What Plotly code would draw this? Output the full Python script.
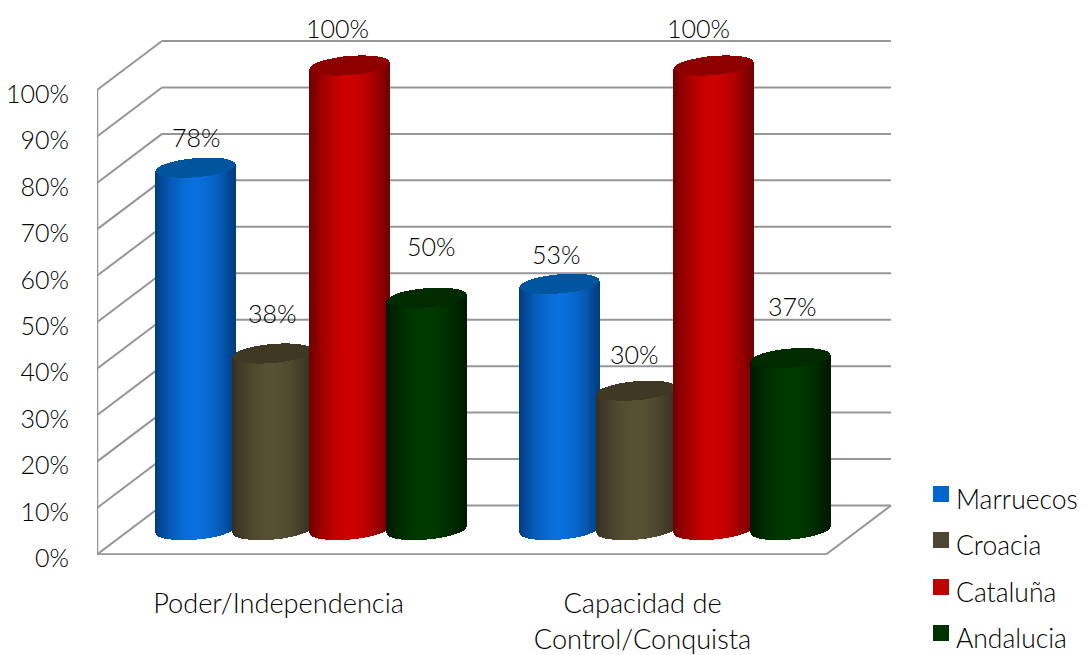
import numpy as np
import plotly.graph_objects as go

# ---- data ----
categories = ["Poder/Independencia", "Capacidad de<br>Control/Conquista"]
series_names = ["Marruecos", "Croacia", "Cataluña", "Andalucia"]
marruecos = [78, 53]
croacia = [38, 30]
cataluna = [100, 100]
andalucia = [50, 37]
tick_values = [0, 10, 20, 30, 40, 50, 60, 70, 80, 90, 100]
tick_labels = ["0%", "10%", "20%", "30%", "40%", "50%", "60%", "70%", "80%", "90%", "100%"]

# ---- style ----
FONT = "Lato"
FW = 300
edge_colors = [(0, 62, 128), (54, 48, 34), (112, 0, 0), (0, 26, 0)]
peak_colors = [(10, 112, 222), (88, 82, 52), (206, 0, 0), (0, 58, 0)]
cap_colors = ["#00559F", "#3E3825", "#8E0000", "#002A00"]
swatch_colors = ["#0066CC", "#4D4632", "#C00000", "#003300"]
GRID = "#969696"
TEXT = "#000000"
font_style = dict(family=FONT, size=26.5, color=TEXT, weight=FW)
cat_font = dict(family=FONT, size=27.2, color=TEXT, weight=FW)
num_font = dict(family=FONT, size=25, color=TEXT, weight=FW)

# ---- geometry in pixels of the oblique projection ----
W, H = 1088, 655
ML, MB = 97, 100
PX_X = 364.0      # px per category
PX_Y = 4.645      # px per percent
X0_PX = 278.5     # px of the first category tick
Y0_PX = 554.5     # px of front 0 %
DEPTH_X = 65 / PX_X
DEPTH_Y = 49 / PX_Y
BAR_STEP = 76.8 / PX_X
RADIUS = 39.6 / PX_X
SHEAR = 3.3 / PX_Y
ELL = 9.5 / PX_Y

all_series = [marruecos, croacia, cataluna, andalucia]
fig = go.Figure()


def shade(s, t):
    f = 1 - abs(t) ** 1.8
    e, p = edge_colors[s], peak_colors[s]
    return "rgb(%d,%d,%d)" % tuple(int(a + (b - a) * f) for a, b in zip(e, p))


for s, (name, vals) in enumerate(zip(series_names, all_series)):
    xs, base, height, colors = [], [], [], []
    cap_x, cap_b, cap_h = [], [], []
    for g, v in enumerate(vals):
        cx = g + (s - 1.5) * BAR_STEP + DEPTH_X / 2
        cy = DEPTH_Y / 2
        n = 81
        ts = np.linspace(-1, 1, n)
        for t in ts:
            x = cx + RADIUS * t
            arc = ELL * np.sqrt(max(0.0, 1 - t * t))
            # sheared ellipses: left lower, right higher
            low = cy + SHEAR * t - arc
            xs.append(x)
            base.append(low)
            height.append(v + arc)
            colors.append(shade(s, t))
            cap_x.append(x)
            cap_b.append(cy + v + SHEAR * t - arc)
            cap_h.append(2 * arc)
    step = 2 * RADIUS / 80 * 1.02
    fig.add_trace(go.Bar(x=xs, y=height, base=base, width=step, name=name,
                         marker=dict(color=colors, line=dict(width=0)),
                         hoverinfo="skip", showlegend=False))
    fig.add_trace(go.Bar(x=cap_x, y=cap_h, base=cap_b, width=step, name=name + " (tapa)",
                         marker=dict(color=cap_colors[s], line=dict(width=0)),
                         hoverinfo="skip", showlegend=False))

# ---- walls / gridlines ----
xl = (ML - X0_PX) / PX_X
xr_front = (826 - X0_PX) / PX_X
shapes = []


def line(x0, y0, x1, y1, w=2.0):
    shapes.append(dict(type="line", xref="x", yref="y", x0=x0, y0=y0, x1=x1, y1=y1,
                       layer="below", line=dict(color=GRID, width=w)))


for v in tick_values:
    line(xl, v, xl + DEPTH_X, v + DEPTH_Y)
    line(xl + DEPTH_X, v + DEPTH_Y, xr_front + DEPTH_X, v + DEPTH_Y)
line(xl, 0, xl, 100, 2.5)
line(xl, 0, xr_front, 0, 2.5)
line(xr_front, 0, xr_front + DEPTH_X, DEPTH_Y)

# ---- legend ----
legend_y_swatch = [494, 540, 587, 633]
legend_y_text = [499, 545, 592, 638]
annotations = []
pw = W - ML
ph = H - MB
for i, name in enumerate(series_names):
    shapes.append(dict(type="rect", xref="paper", yref="paper",
                       x0=(933 - ML) / pw, x1=(949 - ML) / pw,
                       y0=(ph - legend_y_swatch[i] - 8) / ph, y1=(ph - legend_y_swatch[i] + 8) / ph,
                       fillcolor=swatch_colors[i], line=dict(width=0), layer="above"))
    annotations.append(dict(text=name, xref="paper", yref="paper", x=(954 - ML) / pw,
                            y=(ph - legend_y_text[i]) / ph, xanchor="left", yanchor="middle",
                            showarrow=False, font=font_style))

# ---- data labels ----
label_dx = [[1, -3], [0, -2], [-12, -15], [5, 2]]
label_dy = [[31, 30], [40, 37], [38, 38], [52, 52]]
for s, vals in enumerate(all_series):
    for g, v in enumerate(vals):
        annotations.append(dict(text=f"{v}%", x=g + (s - 1.5) * BAR_STEP + DEPTH_X / 2, y=v + DEPTH_Y / 2,
                                xref="x", yref="y", xanchor="center", yanchor="middle", showarrow=False,
                                xshift=label_dx[s][g], yshift=label_dy[s][g],
                                font=num_font))

fig.update_layout(
    width=W, height=H, autosize=False,
    margin=dict(l=ML, r=0, t=0, b=MB, pad=0),
    paper_bgcolor="white", plot_bgcolor="white",
    barmode="overlay", bargap=0, showlegend=False,
    font=font_style,
    shapes=shapes, annotations=annotations,
    xaxis=dict(range=[xl, (W - X0_PX) / PX_X], tickvals=[0, 1], ticktext=categories,
               tickfont=cat_font,
               showgrid=False, zeroline=False, showline=False, ticks="", automargin=False,
               ticklabelstandoff=30, tickangle=0, fixedrange=True),
    yaxis=dict(range=[(Y0_PX - (H - MB)) / PX_Y, Y0_PX / PX_Y], tickvals=tick_values, ticktext=tick_labels,
               tickfont=num_font,
               showgrid=False, zeroline=False, showline=False, ticks="", automargin=False,
               ticklabelstandoff=27, ticklabelshift=4, fixedrange=True),
)
fig.write_html("out.html", config={"displayModeBar": False},
               post_script="document.body.style.margin='0';")
